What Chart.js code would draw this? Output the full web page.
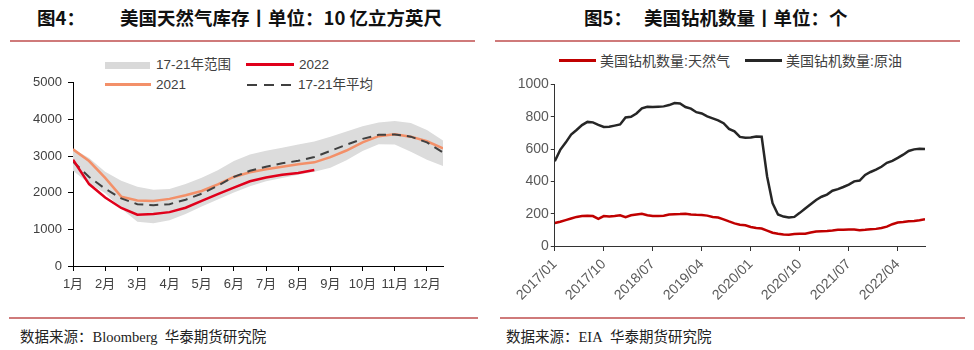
<!DOCTYPE html>
<html>
<head>
<meta charset="utf-8">
<script src="https://cdn.jsdelivr.net/npm/chart.js@4.4.0/dist/chart.umd.min.js"></script>
<style>
  body { margin: 0; background: #fff; }
  #page { position: relative; width: 974px; height: 350px; overflow: hidden; background: #fff; font-family: "Liberation Sans", "Noto Sans CJK SC", sans-serif; }
  .abs { position: absolute; white-space: nowrap; }
  .title { font-family: "Noto Sans CJK SC", sans-serif; font-weight: 700; font-size: 18.5px; color: #111; line-height: 22px; top: 6px; }
  .rule { position: absolute; height: 2px; background: #cf7a7a; }
  .src { font-family: "Liberation Serif", "Noto Sans CJK SC", serif; font-size: 14.5px; color: #222; top: 329px; line-height: 16px; }
  .leg { font-size: 13.5px; color: #404040; line-height: 16px; }
  .leg2 { font-size: 14px; color: #404040; line-height: 16px; }
  canvas { position: absolute; }
</style>
</head>
<body>
<div id="page">
  <div class="abs title" style="left:37px">图4：</div>
  <div class="abs title" style="left:120px">美国天然气库存丨单位：10 亿立方英尺</div>
  <div class="rule" style="left:10px;width:465px;top:40px"></div>

  <div class="abs title" style="left:584px">图5：</div>
  <div class="abs title" style="left:644px">美国钻机数量丨单位：个</div>
  <div class="rule" style="left:495px;width:465px;top:40px"></div>

  <!-- legend, left -->
  <div class="abs" style="left:105px;top:62px;width:45px;height:7px;background:#d9d9d9"></div>
  <div class="abs leg" style="left:156px;top:57px">17-21年范围</div>
  <div class="abs" style="left:246px;top:63px;width:48px;height:3px;background:#e0001b"></div>
  <div class="abs leg" style="left:299px;top:57px">2022</div>
  <div class="abs" style="left:105px;top:83px;width:46px;height:3px;background:#f39069"></div>
  <div class="abs leg" style="left:156px;top:77px">2021</div>
  <div class="abs" style="left:247px;top:84px;width:47px;height:2px;background:repeating-linear-gradient(90deg,#404040 0 10px,transparent 10px 17px)"></div>
  <div class="abs leg" style="left:298px;top:77px">17-21年平均</div>

  <!-- legend, right -->
  <div class="abs" style="left:559px;top:59px;width:37px;height:3px;background:#c00000"></div>
  <div class="abs leg2" style="left:600px;top:53px">美国钻机数量:天然气</div>
  <div class="abs" style="left:745px;top:59px;width:37px;height:3px;background:#262626"></div>
  <div class="abs leg2" style="left:786px;top:53px">美国钻机数量:原油</div>

  <canvas id="storage" width="430" height="227" style="left:23px;top:69px"></canvas>
  <canvas id="rigs" width="426" height="232" style="left:514px;top:74px"></canvas>

  <div class="rule" style="left:9px;width:469px;top:317px;height:2px"></div>
  <div class="rule" style="left:500px;width:465px;top:317px;height:2px"></div>
  <div class="abs src" style="left:20px">数据来源：Bloomberg&nbsp;&nbsp;华泰期货研究院</div>
  <div class="abs src" style="left:506px">数据来源：EIA&nbsp;&nbsp;华泰期货研究院</div>
</div>

<script>
// ---- 图4 data: position in months from Jan 1 (half-month steps), Bcf
var monthPos = [0, 0.5, 1, 1.5, 2, 2.5, 3, 3.5, 4, 4.5, 5, 5.5, 6, 6.5, 7, 7.5, 8, 8.5, 9, 9.5, 10, 10.5, 11, 11.5];
var monthLabels = ['1月', '2月', '3月', '4月', '5月', '6月', '7月', '8月', '9月', '10月', '11月', '12月'];
var stock2022 = [2900, 2236, 1870, 1585, 1400, 1417, 1470, 1590, 1775, 1963, 2140, 2313, 2414, 2490, 2537, 2620];
var stock2021 = [3183, 2864, 2403, 1894, 1790, 1774, 1832, 1930, 2047, 2228, 2430, 2557, 2641, 2710, 2778, 2829, 2973, 3152, 3375, 3543, 3593, 3530, 3405, 3209];
var stockAvg = [2850, 2430, 2107, 1847, 1687, 1660, 1688, 1810, 1973, 2194, 2432, 2600, 2710, 2805, 2870, 2975, 3140, 3310, 3470, 3580, 3592, 3530, 3375, 3096];
var rangeMax = [3200, 2950, 2570, 2330, 2160, 2078, 2100, 2240, 2410, 2615, 2865, 3045, 3145, 3228, 3314, 3398, 3525, 3670, 3815, 3918, 3957, 3900, 3715, 3426];
var rangeMin = [2600, 2250, 1985, 1570, 1205, 1166, 1250, 1416, 1622, 1817, 2005, 2176, 2310, 2404, 2488, 2571, 2683, 2885, 3140, 3322, 3318, 3121, 2897, 2731];

// ---- 图5 data: monthly, from 2017/01
var gasRigs = [
  142, 150, 160, 170, 180, 185, 187, 185, 168, 185, 183, 185,
  190, 178, 190, 195, 200, 190, 185, 185, 187, 195, 197, 198,
  200, 195, 193, 192, 188, 180, 176, 165, 152, 140, 132, 128,
  118, 112, 108, 95, 82, 76, 71, 70, 74, 76, 76, 84,
  90, 92, 93, 96, 100, 100, 102, 102, 98, 100, 103, 106,
  112, 120, 135, 145, 148, 153, 155, 160, 166
];
var oilRigs = [
  525, 595, 640, 690, 718, 748, 768, 765, 750, 737, 738, 745,
  752, 795, 800, 820, 852, 862, 860, 862, 864, 872, 885, 882,
  860, 850, 828, 820, 802, 790, 778, 760, 725, 710, 675, 670,
  672, 678, 676, 430, 265, 195, 182, 176, 180, 205, 232, 258,
  285, 305, 318, 342, 352, 365, 380, 400, 405, 440, 458, 472,
  490, 515, 527, 545, 565, 588, 598, 602, 600
];
var rigTicks = [0, 9, 18, 27, 36, 45, 54, 63];

function pts(xs, ys) { return ys.map(function (v, i) { return { x: xs[i], y: v }; }); }
function idx(ys) { return ys.map(function (v, i) { return { x: i, y: v }; }); }
function plain(v) { return String(v); }

var tickFont = { family: "'Liberation Sans', 'Noto Sans CJK SC', sans-serif", size: 13 };
var tickFont2 = { family: "'Liberation Sans', 'Noto Sans CJK SC', sans-serif", size: 14 };

new Chart(document.getElementById('storage').getContext('2d'), {
  type: 'line',
  data: {
    datasets: [
      { label: '2022', data: pts(monthPos, stock2022), borderColor: '#e0001b', borderWidth: 2.5, pointRadius: 0, fill: false, order: 0 },
      { label: '17-21年平均', data: pts(monthPos, stockAvg), borderColor: '#404040', borderWidth: 2, borderDash: [9, 6], pointRadius: 0, fill: false, order: 1 },
      { label: '2021', data: pts(monthPos, stock2021), borderColor: '#f39069', borderWidth: 2.5, pointRadius: 0, fill: false, order: 2 },
      { label: '17-21年范围', data: pts(monthPos, rangeMax), borderWidth: 0, borderColor: 'rgba(0,0,0,0)', backgroundColor: '#dcdcdc', pointRadius: 0, fill: '+1', order: 3 },
      { label: 'min', data: pts(monthPos, rangeMin), borderWidth: 0, borderColor: 'rgba(0,0,0,0)', pointRadius: 0, fill: false, order: 4 }
    ]
  },
  options: {
    responsive: false,
    animation: false,
    devicePixelRatio: 1,
    layout: { padding: { top: 10, right: 10, left: 0, bottom: 0 } },
    plugins: { legend: { display: false }, tooltip: { enabled: false } },
    scales: {
      x: {
        type: 'linear', min: 0, max: 11.5,
        afterBuildTicks: function (s) { s.ticks = monthLabels.map(function (l, i) { return { value: i }; }); },
        afterFit: function (s) { s.height = 30; },
        grid: { drawOnChartArea: false, tickLength: 5, color: '#000' },
        border: { color: '#000', width: 1 },
        ticks: { autoSkip: false, maxRotation: 0, padding: 6, color: '#404040', font: tickFont,
          callback: function (v) { return monthLabels[v]; } }
      },
      y: {
        min: 0, max: 5000,
        afterFit: function (s) { s.width = 50; },
        grid: { drawOnChartArea: false, tickLength: 5, color: '#000' },
        border: { color: '#000', width: 1 },
        ticks: { stepSize: 1000, padding: 6, color: '#404040', font: tickFont, callback: plain }
      }
    }
  }
});

new Chart(document.getElementById('rigs').getContext('2d'), {
  type: 'line',
  data: {
    datasets: [
      { label: '美国钻机数量:天然气', data: idx(gasRigs), borderColor: '#c00000', borderWidth: 2.5, pointRadius: 0, fill: false },
      { label: '美国钻机数量:原油', data: idx(oilRigs), borderColor: '#262626', borderWidth: 2.5, pointRadius: 0, fill: false }
    ]
  },
  options: {
    responsive: false,
    animation: false,
    devicePixelRatio: 1,
    layout: { padding: { top: 10, right: 15, left: 0, bottom: 0 } },
    plugins: { legend: { display: false }, tooltip: { enabled: false } },
    scales: {
      x: {
        type: 'linear', min: 0, max: 68,
        afterBuildTicks: function (s) { s.ticks = rigTicks.map(function (v) { return { value: v }; }); },
        afterFit: function (s) { s.height = 60; },
        grid: { drawOnChartArea: false, tickLength: 5, color: '#333' },
        border: { color: '#333', width: 1 },
        ticks: { autoSkip: false, minRotation: 45, maxRotation: 45, padding: 5, color: '#595959', font: tickFont2,
          callback: function (v) {
            var y = 2017 + Math.floor(v / 12), m = v % 12 + 1;
            return y + '/' + (m < 10 ? '0' + m : m);
          } }
      },
      y: {
        min: 0, max: 1000,
        afterFit: function (s) { s.width = 40; },
        grid: { drawOnChartArea: false, tickLength: 4, color: '#333' },
        border: { color: '#333', width: 1 },
        ticks: { stepSize: 200, padding: 2, color: '#595959', font: tickFont2, callback: plain }
      }
    }
  }
});
</script>
</body>
</html>
